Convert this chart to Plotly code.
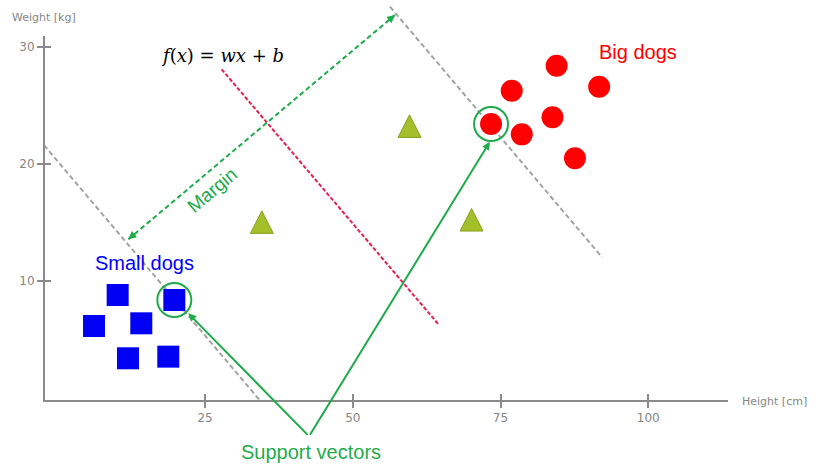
import plotly.graph_objects as go

# ---------------- data ----------------
# small dogs (height cm, weight kg)
small_x = [10.2, 6.2, 14.2, 11.95, 18.77, 19.79]
small_y = [8.77, 6.12, 6.35, 3.36, 3.50, 8.34]
# big dogs
big_x = [84.5, 76.9, 91.7, 83.8, 73.4, 78.6, 87.6]
big_y = [28.37, 26.23, 26.57, 23.96, 23.38, 22.50, 20.45]
# unlabelled samples
unk_x = [59.6, 34.6, 70.1]
unk_y = [23.2, 15.0, 15.2]
# support vectors
sv_x = [19.79, 73.4]
sv_y = [8.34, 23.38]
# separating hyperplane and the two margin boundaries (end points)
hyper_x = [27.8, 64.6]
hyper_y = [28.06, 6.2]
upper_x = [56.3, 92.2]
upper_y = [33.41, 11.99]
lower_x = [-2.27, 34.46]
lower_y = [21.58, -0.35]
# margin width arrow end points
margin_x = [12.0, 57.14]
margin_y = [13.53, 32.70]
# common origin of the "support vectors" pointers
sv_label_x = 42.6
sv_label_y = -3.31

x_ticks = [25, 50, 75, 100]
y_ticks = [10, 20, 30]

# ---------------- geometry ----------------
W, H = 837, 464
X0, KX = 57.4, 5.908      # pixel of x=0, pixels per cm
Y0, KY = 397.6, 11.70     # pixel of y=0, pixels per kg


def fx(px):
    return (px - X0) / KX


def fy(py):
    return (Y0 - py) / KY


GREEN = "#1fab4b"
GRAY = "#8a8a8a"
TICK_GRAY = "#858585"
SANS = "Liberation Sans, Arial, sans-serif"

fig = go.Figure()

# margin boundaries
for xs, ys in [(upper_x, upper_y), (lower_x, lower_y)]:
    fig.add_trace(go.Scatter(x=xs, y=ys, mode="lines",
                             line=dict(color="#a3a3a3", width=2, dash="5px,3px"),
                             hoverinfo="skip", showlegend=False))
# hyperplane
fig.add_trace(go.Scatter(x=hyper_x, y=hyper_y, mode="lines",
                         line=dict(color="#e3214f", width=2, dash="4px,2px"),
                         hoverinfo="skip", showlegend=False))
# margin width line
fig.add_trace(go.Scatter(x=margin_x, y=margin_y, mode="lines",
                         line=dict(color=GREEN, width=2, dash="5px,3px"),
                         hoverinfo="skip", showlegend=False))

# unlabelled samples as filled triangles
hw, hh = 11.5 / KX, 11.3 / KY
tri_x, tri_y = [], []
for cx, cy in zip(unk_x, unk_y):
    tri_x += [cx - hw, cx + hw, cx, cx - hw, None]
    tri_y += [cy - hh, cy - hh, cy + hh, cy - hh, None]
fig.add_trace(go.Scatter(x=tri_x, y=tri_y, mode="lines", fill="toself",
                         fillcolor="#a3c02a", line=dict(color="#88a222", width=1),
                         hoverinfo="skip", showlegend=False))

fig.add_trace(go.Scatter(x=small_x, y=small_y, mode="markers",
                         marker=dict(symbol="square", size=22, color="#0000f5",
                                     line=dict(width=0)),
                         showlegend=False))
fig.add_trace(go.Scatter(x=big_x, y=big_y, mode="markers",
                         marker=dict(symbol="circle", size=22, color="#ff0000",
                                     line=dict(width=0)),
                         showlegend=False))
fig.add_trace(go.Scatter(x=sv_x, y=sv_y, mode="markers",
                         marker=dict(symbol="circle-open", size=34, color=GREEN,
                                     line=dict(color=GREEN, width=2)),
                         showlegend=False))

# ---- visible axes live on their own subplot (x2/y2) with the same scale ----
x2_range = [fx(45), fx(728)]
y2_range = [fy(400), fy(36)]
x2_dom = [45 / W, 728 / W]
y2_dom = [(H - 400) / H, (H - 36) / H]

for xa, ya in [("x2", "y2"), ("x3", "y2"), ("x2", "y3")]:
    fig.add_trace(go.Scatter(x=[x2_range[0]], y=[y2_range[0]], xaxis=xa, yaxis=ya,
                             mode="markers", marker=dict(opacity=0),
                             hoverinfo="skip", showlegend=False))

tickfont = dict(family="DejaVu Sans, Verdana, sans-serif", size=12, color=TICK_GRAY)
labelfont = dict(family="DejaVu Sans, Verdana, sans-serif", size=11, color=TICK_GRAY)
hidden = dict(visible=False, showgrid=False, zeroline=False, fixedrange=True)

fig.update_layout(
    width=W, height=H,
    margin=dict(l=0, r=0, t=0, b=0),
    paper_bgcolor="white", plot_bgcolor="rgba(0,0,0,0)",
    showlegend=False,
    xaxis=dict(range=[fx(0), fx(W)], domain=[0, 1], **hidden),
    yaxis=dict(range=[fy(H), fy(0)], domain=[0, 1], **hidden),
    xaxis2=dict(range=x2_range, domain=x2_dom, anchor="y2",
                showline=True, linecolor=GRAY, linewidth=2,
                showgrid=False, zeroline=False,
                tickmode="array", tickvals=x_ticks,
                ticks="outside", ticklen=6, tickwidth=2, tickcolor=GRAY,
                tickfont=tickfont),
    yaxis2=dict(range=y2_range, domain=y2_dom, anchor="x2",
                showline=True, linecolor=GRAY, linewidth=2,
                showgrid=False, zeroline=False,
                tickmode="array", tickvals=y_ticks,
                ticks="outside", ticklen=6, tickwidth=2, tickcolor=GRAY,
                tickfont=tickfont),
    xaxis3=dict(range=x2_range, overlaying="x2", anchor="y2",
                showline=False, showgrid=False, zeroline=False,
                tickmode="array", tickvals=x_ticks, showticklabels=False,
                ticks="inside", ticklen=6, tickwidth=2, tickcolor=GRAY),
    yaxis3=dict(range=y2_range, overlaying="y2", anchor="x2", side="left",
                showline=False, showgrid=False, zeroline=False,
                tickmode="array", tickvals=y_ticks, showticklabels=False,
                ticks="inside", ticklen=6, tickwidth=2, tickcolor=GRAY),
)

ann = []
# axis arrow heads
ann.append(dict(xref="x2", yref="y2", x=fx(733), y=y2_range[0], ax=-12, ay=0,
                text="", showarrow=True, arrowhead=2, arrowsize=1,
                arrowwidth=2, arrowcolor=GRAY))
ann.append(dict(xref="x2", yref="y2", x=x2_range[0], y=fy(30), ax=0, ay=12,
                text="", showarrow=True, arrowhead=2, arrowsize=1,
                arrowwidth=2, arrowcolor=GRAY))
# margin arrow heads at both ends
ann.append(dict(xref="x", yref="y", x=margin_x[1], y=margin_y[1], ax=-8.4, ay=7.1,
                text="", showarrow=True, arrowhead=2, arrowsize=1,
                arrowwidth=1.6, arrowcolor=GREEN))
ann.append(dict(xref="x", yref="y", x=margin_x[0], y=margin_y[0], ax=8.4, ay=-7.1,
                text="", showarrow=True, arrowhead=2, arrowsize=1,
                arrowwidth=1.6, arrowcolor=GREEN))
# pointers from the label to each support vector
for tx, ty in [(22.16, 7.2), (73.2, 21.87)]:
    ann.append(dict(xref="x", yref="y", axref="x", ayref="y",
                    x=tx, y=ty, ax=sv_label_x, ay=sv_label_y,
                    text="", showarrow=True, arrowhead=2, arrowsize=0.8,
                    arrowwidth=2, arrowcolor=GREEN))

# text labels
ann.append(dict(xref="x", yref="y", x=42.9, y=-4.65, text="Support vectors",
                showarrow=False, font=dict(family=SANS, size=20, color=GREEN)))
ann.append(dict(xref="x", yref="y", x=14.74, y=11.5, text="Small dogs",
                showarrow=False, font=dict(family=SANS, size=20, color="#0000ff")))
ann.append(dict(xref="x", yref="y", x=98.3, y=29.54, text="Big dogs",
                showarrow=False, font=dict(family=SANS, size=20, color="#ff0000")))
ann.append(dict(xref="x", yref="y", x=26.1, y=17.74, text="Margin", textangle=-40,
                showarrow=False, font=dict(family=SANS, size=19, color=GREEN)))
ann.append(dict(xref="x", yref="y", x=28.0, y=29.28,
                text="<i>f</i>(<i>x</i>) = <i>wx</i> + <i>b</i>",
                showarrow=False,
                font=dict(family="DejaVu Serif, serif", size=18, color="black")))
ann.append(dict(xref="x", yref="y", x=fx(10), y=fy(17), xanchor="left",
                text="Weight [kg]", showarrow=False, font=labelfont))
ann.append(dict(xref="x", yref="y", x=fx(740), y=fy(401), xanchor="left",
                text="Height [cm]", showarrow=False, font=labelfont))

fig.update_layout(annotations=ann)

fig.write_html("out.html")
